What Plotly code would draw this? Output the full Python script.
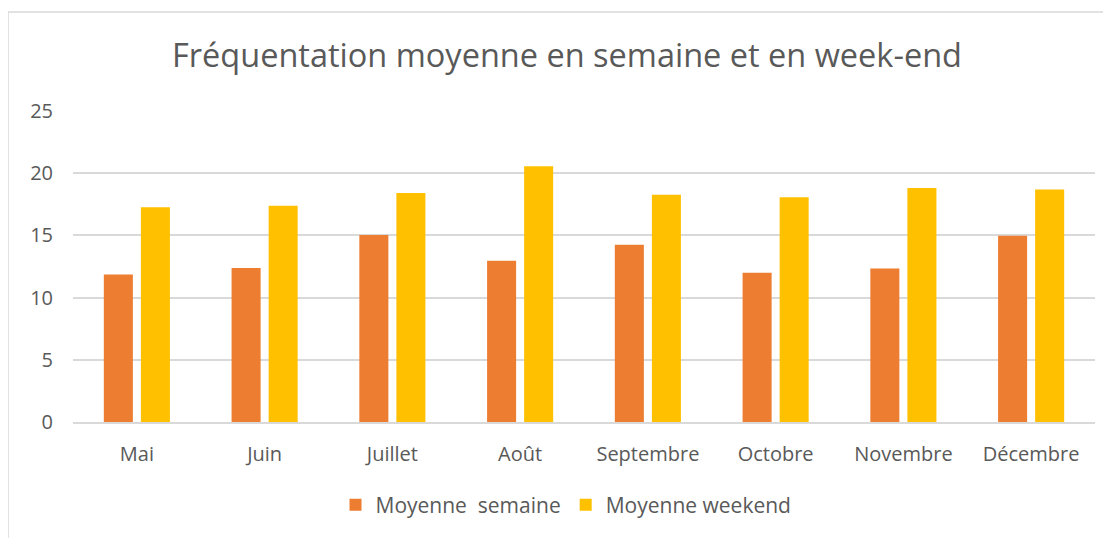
import plotly.graph_objects as go

months = ["Mai", "Juin", "Juillet", "Août", "Septembre", "Octobre", "Novembre", "Décembre"]
semaine = [11.85, 12.38, 15.03, 12.97, 14.25, 12.0, 12.33, 14.97]
weekend = [17.27, 17.38, 18.40, 20.56, 18.26, 18.07, 18.82, 18.69]
name_semaine = "Moyenne\u00a0 semaine"
name_weekend = "Moyenne weekend"
title = "Fréquentation moyenne en semaine et en week-end"
yticks = [0, 5, 10, 15, 20, 25]

FONT = "'Open Sans', sans-serif"
TXT = "#595959"
GRID = "#D9D9D9"

fig = go.Figure()
fig.add_trace(go.Bar(x=months, y=semaine, name=name_semaine, marker_color="#ED7D31",
                     marker_line_width=0))
fig.add_trace(go.Bar(x=months, y=weekend, name=name_weekend, marker_color="#FFC000",
                     marker_line_width=0))

# page body has an 8px margin: figure drawn 8px right/down of the window origin
OFF = 8
W, H = 1111 - OFF, 538 - OFF
L, R, T, B = 65, 16, 103, 116
pw, ph = W - L - R, H - T - B

def px(xs):  # screen x -> paper x
    return (xs - OFF - L) / pw

def py(ys):  # screen y -> paper y
    return (H - B - (ys - OFF)) / ph

fig.update_layout(
    width=W, height=H,
    margin=dict(l=L, r=R, t=T, b=B, autoexpand=False),
    paper_bgcolor="white", plot_bgcolor="white",
    font=dict(family=FONT, color=TXT, size=20),
    barmode="group", bargap=0.42, bargroupgap=0.216,
    title=dict(text=title, x=px(567), xref="paper", xanchor="center",
               y=1 - (56 - OFF) / H, yref="container", yanchor="middle",
               font=dict(size=32.5, color=TXT, family=FONT)),
    legend=dict(orientation="h", x=px(566), xanchor="center", y=py(505), yanchor="middle",
                font=dict(size=21, color=TXT), itemwidth=30, tracegroupgap=0,
                bgcolor="rgba(0,0,0,0)"),
    xaxis=dict(showgrid=False, showline=True, linecolor=GRID, linewidth=1.5,
               ticks="", ticklabelstandoff=13, tickfont=dict(size=20, color=TXT),
               fixedrange=True),
    yaxis=dict(range=[0, 25], tickvals=yticks, showgrid=True, gridcolor=GRID, gridwidth=1.5,
               zeroline=False, showline=False, ticks="", ticklabelstandoff=19,
               tickfont=dict(size=20, color=TXT)),
    shapes=[dict(type="rect", xref="paper", yref="paper",
                 x0=px(8), x1=px(1125), y0=py(560), y1=py(12),
                 line=dict(color="#D9D9D9", width=1.5), fillcolor="rgba(0,0,0,0)", layer="below")],
)

fig.write_html("out.html")
